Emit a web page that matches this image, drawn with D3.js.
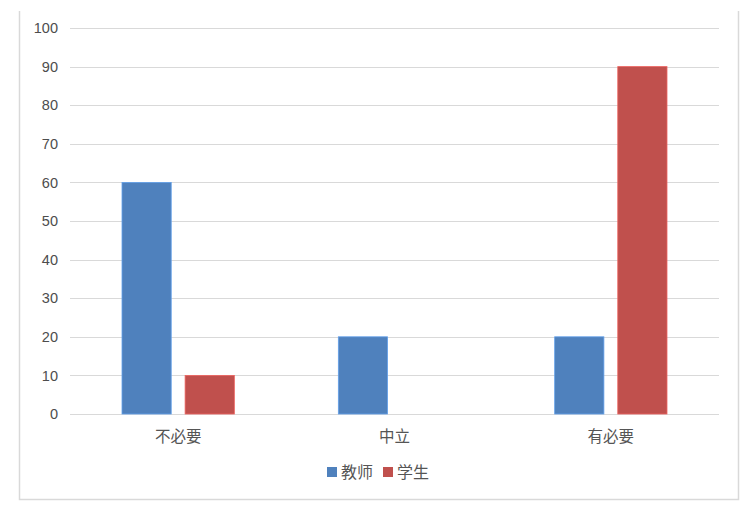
<!DOCTYPE html>
<html>
<head>
<meta charset="utf-8">
<script src="https://cdn.jsdelivr.net/npm/d3@7"></script>
<style>
  html, body { margin: 0; padding: 0; background: #fff; }
  svg { display: block; }
  .tick text { font-family: "Liberation Sans", Arial, sans-serif; font-size: 14.5px; fill: #4d4d4d; }
  .cat text { font-family: "Noto Sans CJK SC", sans-serif; font-size: 15.5px; fill: #555; }
  .legend text { font-family: "Noto Sans CJK SC", sans-serif; font-size: 16px; fill: #555; }
</style>
</head>
<body>
<div id="chart"></div>
<script>
// chart data
const categories = ['不必要', '中立', '有必要'];
const seriesNames = ['教师', '学生'];
const teacherValues = [60, 20, 20];
const studentValues = [10, 0, 90];
const yTicks = [0, 10, 20, 30, 40, 50, 60, 70, 80, 90, 100];

const colors = ['#4F81BD', '#C0504D'];
const width = 748, height = 512;
const margin = { top: 28, left: 70, right: 29, bottom: 98 };

const svg = d3.select('#chart').append('svg')
  .attr('width', width)
  .attr('height', height);

// frame (top edge is cut off in the original)
const frame = svg.append('g').attr('stroke', '#d9d9d9').attr('stroke-width', 1.5).attr('fill', 'none');
frame.append('path').attr('d', 'M19.5,11 V499.5 H738.5 V11');

const x = d3.scaleBand()
  .domain(categories)
  .range([margin.left, width - margin.right]);

const inner = d3.scaleBand()
  .domain(seriesNames)
  .range([52, x.bandwidth() - 52])
  .paddingInner(0.22);

const y = d3.scaleLinear()
  .domain([0, 100])
  .range([height - margin.bottom, margin.top]);

// gridlines
svg.append('g')
  .attr('stroke', '#d9d9d9')
  .attr('stroke-width', 1.2)
  .selectAll('line')
  .data(yTicks)
  .enter().append('line')
  .attr('x1', margin.left)
  .attr('x2', width - margin.right)
  .attr('y1', d => Math.round(y(d)) + 0.5)
  .attr('y2', d => Math.round(y(d)) + 0.5);

// y axis labels
const yAxis = svg.append('g')
  .attr('transform', `translate(${margin.left - 6},0)`)
  .call(d3.axisLeft(y).tickValues(yTicks).tickSize(0).tickPadding(6));
yAxis.select('.domain').remove();

// bars
const rows = categories.map((c, i) => ({ cat: c, vals: [teacherValues[i], studentValues[i]] }));
const groups = svg.append('g')
  .selectAll('g')
  .data(rows)
  .enter().append('g')
  .attr('transform', d => `translate(${x(d.cat)},0)`);

groups.selectAll('rect')
  .data(d => d.vals.map((v, j) => ({ name: seriesNames[j], v, j })).filter(e => e.v > 0))
  .enter().append('rect')
  .attr('x', d => inner(d.name))
  .attr('width', inner.bandwidth())
  .attr('y', d => y(d.v))
  .attr('height', d => y(0) - y(d.v))
  .attr('fill', d => colors[d.j])
  .attr('stroke', d => d3.color(colors[d.j]).brighter(0.6))
  .attr('stroke-width', 0.8);

// category labels
svg.append('g')
  .attr('class', 'cat')
  .selectAll('text')
  .data(categories)
  .enter().append('text')
  .attr('x', d => x(d) + x.bandwidth() / 2)
  .attr('y', 442)
  .attr('text-anchor', 'middle')
  .text(d => d);

// legend
const legend = svg.append('g').attr('class', 'legend');
const legendX = [327, 383];
seriesNames.forEach((name, i) => {
  legend.append('rect')
    .attr('x', legendX[i])
    .attr('y', 467)
    .attr('width', 10)
    .attr('height', 10)
    .attr('fill', colors[i]);
  legend.append('text')
    .attr('x', legendX[i] + 14)
    .attr('y', 478)
    .text(name);
});
</script>
</body>
</html>
